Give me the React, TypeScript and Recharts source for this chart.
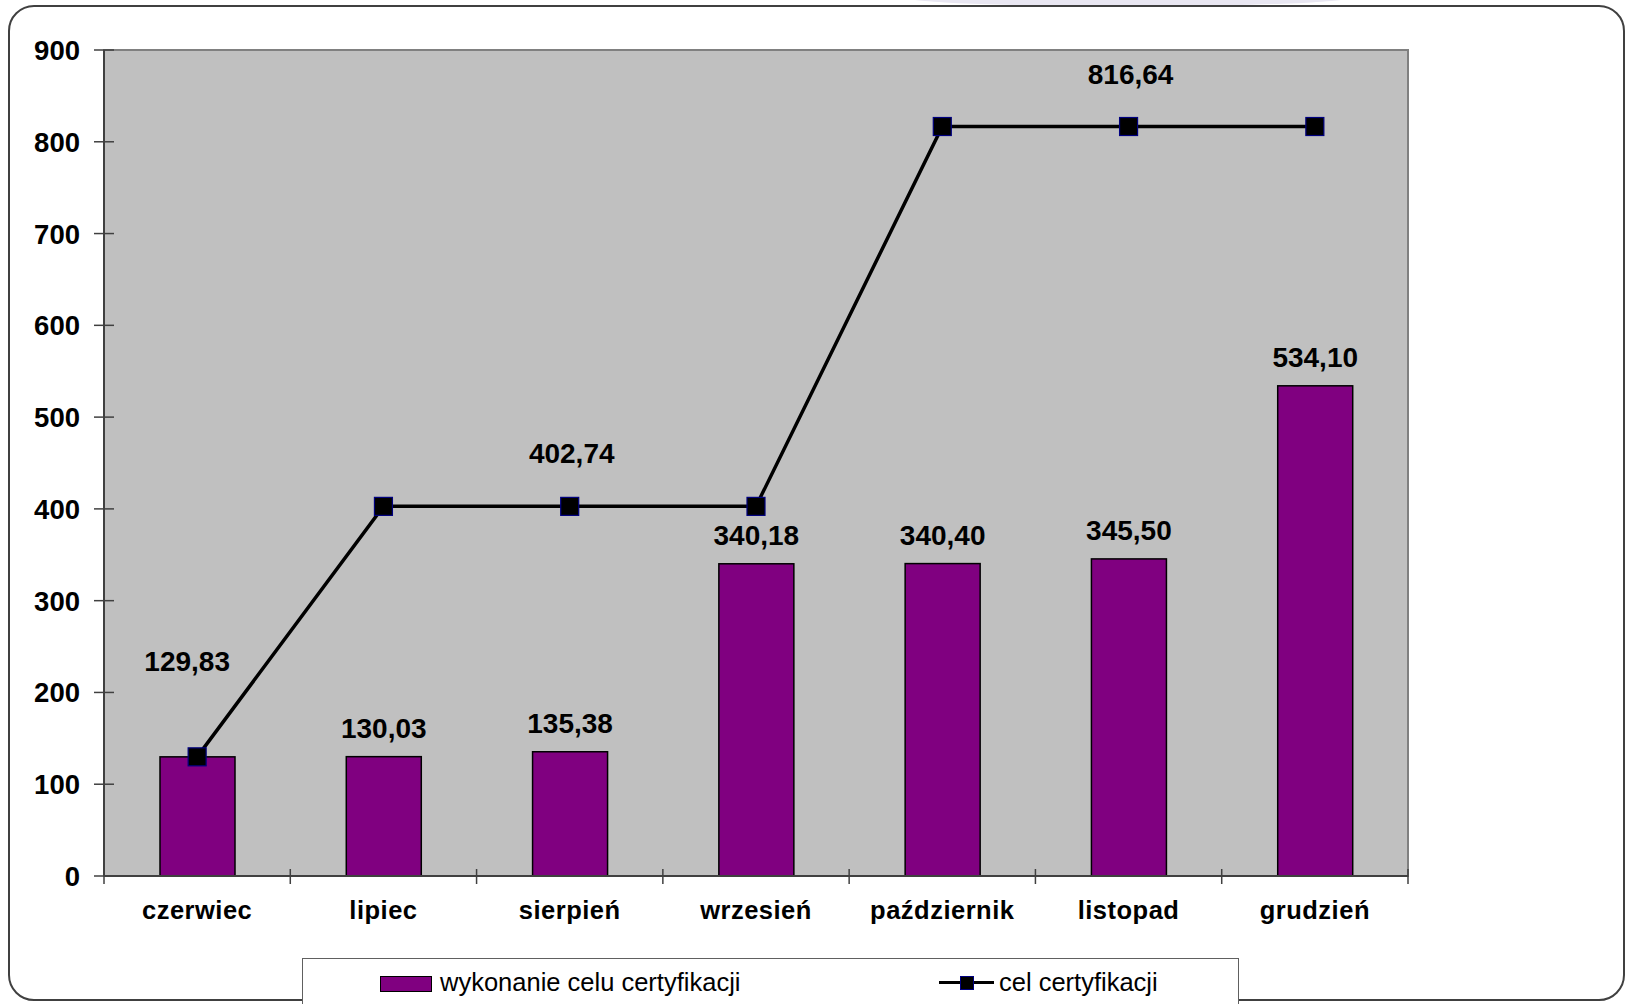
import { Bar, CartesianGrid, ComposedChart, Line, ReferenceArea, XAxis, YAxis } from "recharts";

const months = ["czerwiec", "lipiec", "sierpień", "wrzesień", "październik", "listopad", "grudzień"];
const wykonanie = [129.83, 130.03, 135.38, 340.18, 340.4, 345.5, 534.1];
const cel = [129.83, 402.74, 402.74, 402.74, 816.64, 816.64, 816.64];
const yTicks = [0, 100, 200, 300, 400, 500, 600, 700, 800, 900];
// which points of the target line carry a value label
const celLabelIdx = [0, 2, 5];

const seriesNames = { wykonanie: "wykonanie celu certyfikacji", cel: "cel certyfikacji" };

const data = months.map((month, i) => ({ month, wykonanie: wykonanie[i], cel: cel[i] }));

const FONT = '"Liberation Sans", Arial, sans-serif';
const PLOT_W = 1304;
const BAND = PLOT_W / months.length;

const fmt = (v: number) => v.toFixed(2).replace(".", ",");

function YTick({ x, y, payload }: any) {
  return (
    <g>
      <line x1={x - 10} x2={x + 10} y1={y} y2={y} stroke="#404040" strokeWidth={1.5} />
      <text x={x - 24} y={y + 10} textAnchor="end" fontFamily={FONT} fontWeight="bold" fontSize={27.5} fill="#000">
        {payload.value}
      </text>
    </g>
  );
}

function XTick({ x, y, payload, index }: any) {
  const left = x - BAND / 2;
  const right = x + BAND / 2;
  return (
    <g>
      <line x1={left} x2={left} y1={y - 7} y2={y + 8} stroke="#404040" strokeWidth={1.5} />
      {index === months.length - 1 && (
        <line x1={right} x2={right} y1={y - 7} y2={y + 8} stroke="#404040" strokeWidth={1.5} />
      )}
      <text x={x} y={y + 43} textAnchor="middle" fontFamily={FONT} fontWeight="bold" fontSize={25.5} fill="#000" letterSpacing={0.5}>
        {payload.value}
      </text>
    </g>
  );
}

function BarShape({ x, y, width, height, index, value }: any) {
  return (
    <g>
      <rect x={x} y={y} width={width} height={height} fill="#800080" stroke="#000" strokeWidth={1.5} />
      {index !== 0 && (
        <text x={x + width / 2} y={y - 19} textAnchor="middle" fontFamily={FONT} fontWeight="bold" fontSize={28} fill="#000">
          {fmt(Array.isArray(value) ? value[1] : value)}
        </text>
      )}
    </g>
  );
}

function SquareDot({ cx, cy, index }: any) {
  const first = index === 0;
  return (
    <g key={`dot-${index}`}>
      <rect x={cx - 9} y={cy - 9} width={18} height={18} fill="#000" stroke="#000080" strokeWidth={1.2} />
      {celLabelIdx.includes(index) && (
        <text
          x={first ? cx - 10 : cx + 2}
          y={first ? cy - 86 : cy - 43}
          textAnchor="middle"
          fontFamily={FONT}
          fontWeight="bold"
          fontSize={28}
          fill="#000"
        >
          {fmt(cel[index])}
        </text>
      )}
    </g>
  );
}

export default function App() {
  return (
    <div style={{ position: "absolute", left: 0, top: 0, width: 1630, height: 1004, overflow: "hidden", background: "#fff" }}>
      <div
        style={{
          position: "absolute",
          left: 908,
          top: -10,
          width: 440,
          height: 16,
          background: "#e9e7f2",
          borderRadius: "0 0 50% 50%",
        }}
      />
      <div
        style={{
          position: "absolute",
          left: 8,
          top: 5,
          width: 1617,
          height: 996,
          border: "2px solid #404040",
          borderRadius: 26,
          boxSizing: "border-box",
        }}
      />
      <div style={{ position: "absolute", left: 0, top: 0 }}>
        <ComposedChart width={1630} height={1004} data={data} margin={{ top: 50, right: 222, bottom: 0, left: 0 }}>
          <CartesianGrid horizontal={false} vertical={false} fill="#C0C0C0" />
          <ReferenceArea y1={0} y2={900} fill="none" stroke="#808080" strokeWidth={2} />
          <XAxis
            dataKey="month"
            height={128}
            interval={0}
            tickLine={false}
            tickSize={0}
            tickMargin={0}
            axisLine={{ stroke: "#404040", strokeWidth: 2 }}
            tick={<XTick />}
          />
          <YAxis
            width={104}
            domain={[0, 900]}
            ticks={yTicks}
            interval={0}
            tickLine={false}
            tickSize={0}
            tickMargin={0}
            axisLine={{ stroke: "#404040", strokeWidth: 2 }}
            tick={<YTick />}
          />
          <Bar dataKey="wykonanie" name={seriesNames.wykonanie} barSize={75} shape={<BarShape />} isAnimationActive={false} />
          <Line
            type="linear"
            dataKey="cel"
            name={seriesNames.cel}
            stroke="#000"
            strokeWidth={3.5}
            dot={(p: any) => <SquareDot key={`d${p.index}`} {...p} />}
            activeDot={false}
            isAnimationActive={false}
          />
        </ComposedChart>
      </div>
      <div
        style={{
          position: "absolute",
          left: 302,
          top: 958,
          width: 935,
          height: 80,
          border: "1.5px solid #606060",
          background: "#fff",
          fontFamily: FONT,
          fontSize: 25.5,
          color: "#000",
        }}
      >
        <div style={{ position: "absolute", left: 77, top: 17, width: 50, height: 14, background: "#800080", border: "1.5px solid #000" }} />
        <div style={{ position: "absolute", left: 137, top: 8, whiteSpace: "nowrap", lineHeight: "30px" }}>{seriesNames.wykonanie}</div>
        <div style={{ position: "absolute", left: 636, top: 22, width: 55, height: 3, background: "#000" }} />
        <div style={{ position: "absolute", left: 657, top: 17, width: 12, height: 12, background: "#000", border: "1px solid #000080" }} />
        <div style={{ position: "absolute", left: 696, top: 8, whiteSpace: "nowrap", lineHeight: "30px" }}>{seriesNames.cel}</div>
      </div>
    </div>
  );
}
